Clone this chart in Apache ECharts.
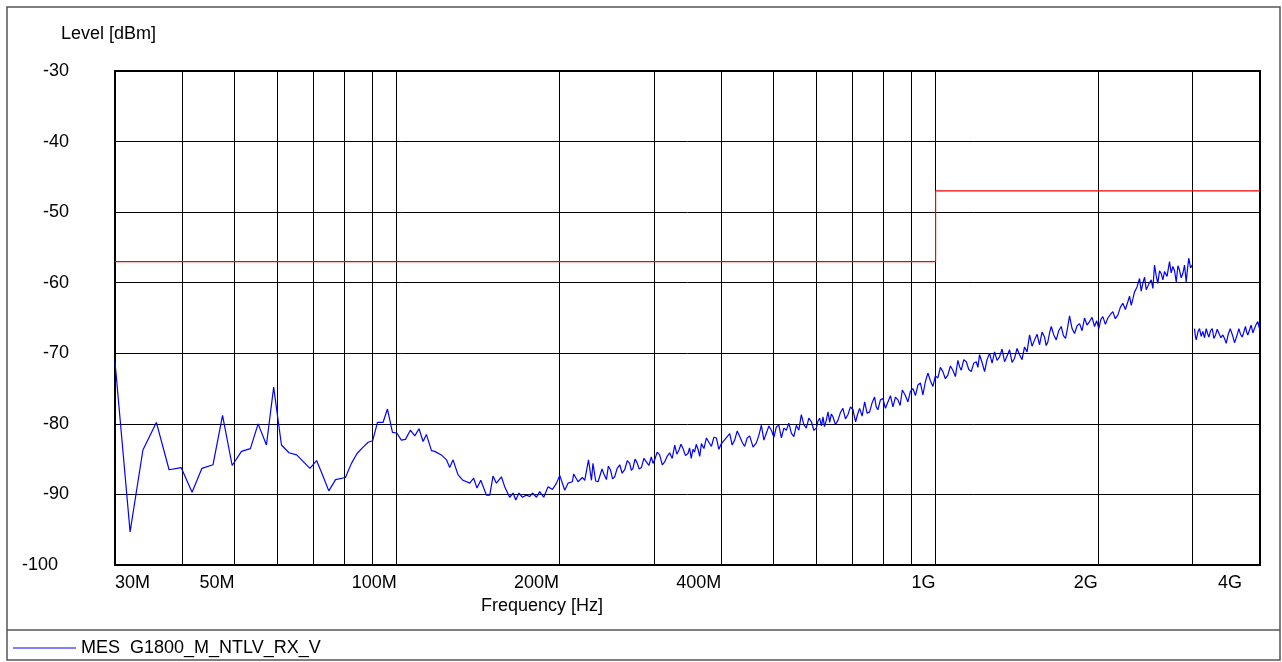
<!DOCTYPE html>
<html>
<head>
<meta charset="utf-8">
<script src="https://cdn.jsdelivr.net/npm/echarts@6/dist/echarts.min.js"></script>
<style>
	html, body { margin: 0; padding: 0; background: #fff; }
	#chart { width: 1282px; height: 662px; }
</style>
</head>
<body>
<div id="chart"></div>
<script>
// frequency in MHz, level in dBm
const sweepLow = [
	[30.0, -71.2], [32.0, -95.3], [33.8, -83.7], [35.8, -79.8], [37.8, -86.5], [39.8, -86.2],
	[41.7, -89.7], [43.5, -86.3], [45.6, -85.8], [47.5, -78.8], [49.5, -85.9], [51.5, -83.9],
	[53.5, -83.5], [55.3, -80.0], [57.3, -83.0], [59.1, -74.8], [61.1, -83.0], [63.1, -84.1],
	[65.2, -84.4], [69.0, -86.3], [71.0, -85.2], [72.8, -87.2], [74.8, -89.5], [77.0, -87.9],
	[80.3, -87.6], [82.4, -85.6], [84.4, -84.2], [86.6, -83.3], [88.5, -82.6], [90.2, -82.4],
	[92.1, -79.8], [94.3, -79.8], [96.1, -77.9], [98.2, -81.2], [100.0, -81.3], [102.0, -82.3],
	[103.8, -82.2], [106.0, -80.9], [108.0, -81.7], [110.0, -80.7]
]

const sweepMid = [
	[111.9, -82.5], [113.5, -81.5], [116.0, -83.8], [117.6, -83.9], [121.0, -84.4], [123.7, -85.1],
	[125.4, -86.2], [127.2, -85.1], [129.9, -87.2], [132.7, -88.0], [136.6, -88.4], [138.9, -87.7],
	[140.9, -89.1], [143.2, -88.0], [146.7, -90.1], [148.8, -90.1], [150.9, -87.4], [153.1, -88.4],
	[156.4, -87.5], [158.6, -88.9], [162.0, -90.4], [164.4, -89.8], [166.3, -90.8], [168.6, -89.8],
	[171.1, -90.4], [174.0, -90.1], [176.5, -90.3], [178.6, -89.8], [181.7, -90.4], [184.2, -89.6],
	[187.4, -90.4], [190.9, -88.9], [194.5, -89.3], [197.9, -88.4], [200.7, -87.3], [205.0, -89.4],
	[207.9, -88.4], [211.8, -88.2], [213.0, -87.1], [217.0, -88.2], [221.1, -87.6], [223.3, -88.0],
	[226.9, -85.1], [229.8, -88.0], [231.3, -85.6], [234.0, -88.1], [236.4, -88.2], [240.4, -86.4],
	[242.7, -87.2], [245.0, -87.9], [247.0, -86.0], [249.2, -86.5], [251.5, -87.8], [253.8, -87.5],
	[256.5, -86.3], [259.3, -85.8], [262.0, -87.0], [264.9, -86.5], [267.8, -85.2], [270.6, -85.6],
	[272.5, -86.6], [274.4, -86.3], [276.8, -85.0], [279.2, -85.5], [281.8, -86.4], [284.5, -86.2],
	[287.5, -84.9], [290.6, -85.4], [293.7, -85.9], [296.8, -84.7], [299.0, -85.6], [301.1, -85.1],
	[304.3, -84.0], [307.6, -84.4], [311.0, -85.8], [314.2, -85.4], [317.6, -84.6], [321.0, -84.1],
	[324.5, -84.9], [328.0, -83.0], [331.0, -84.3], [334.0, -83.7], [336.9, -82.9], [339.8, -83.5],
	[343.4, -84.5], [347.1, -84.2], [349.5, -83.4], [352.0, -84.9], [354.5, -83.6], [357.0, -84.0],
	[359.6, -82.9], [362.3, -83.6], [365.0, -84.6], [367.6, -82.8], [371.6, -83.5], [375.6, -82.0],
	[379.6, -82.6], [383.7, -83.2], [387.8, -81.9], [391.9, -82.0], [396.1, -83.6], [400.4, -82.8]
]

const sweepHigh = [
	[407.6, -82.1], [414.9, -81.4], [419.3, -83.0], [423.8, -82.3], [428.4, -81.0], [433.0, -81.8],
	[437.6, -82.6], [442.3, -83.2], [447.1, -82.0], [451.9, -81.7], [458.4, -83.3], [464.9, -82.7],
	[470.0, -81.6], [475.0, -80.2], [480.1, -82.3], [485.3, -81.3], [490.5, -80.3], [495.8, -80.9],
	[501.1, -81.9], [506.5, -80.4], [511.9, -80.2], [517.4, -82.0], [522.9, -80.6], [528.5, -80.9],
	[534.2, -79.9], [539.9, -81.3], [545.7, -81.8], [551.6, -80.2], [557.5, -80.9], [563.4, -78.7],
	[569.5, -80.1], [575.6, -80.6], [581.8, -79.2], [588.1, -79.7], [594.4, -80.9], [600.8, -80.6],
	[605.0, -79.6], [609.3, -79.2], [614.0, -80.3], [618.0, -79.0], [622.0, -80.4], [626.9, -79.5],
	[631.5, -78.3], [636.0, -79.8], [640.5, -78.6], [645.0, -79.0], [651.9, -80.1], [658.8, -79.5],
	[665.9, -78.4], [673.0, -77.8], [680.3, -79.3], [687.6, -78.7], [695.0, -77.6], [702.5, -78.0],
	[706.5, -78.9], [710.6, -79.7], [716.7, -78.6], [722.8, -77.8], [730.6, -78.9], [738.5, -76.9],
	[746.4, -78.5], [754.4, -78.3], [762.5, -77.0], [770.6, -76.2], [776.0, -77.6], [781.5, -78.0],
	[790.0, -76.6], [798.4, -76.4], [807.0, -77.8], [815.7, -76.9], [824.5, -76.0], [833.4, -77.6],
	[842.4, -76.2], [851.4, -76.6], [859.4, -77.4], [867.5, -75.2], [878.0, -75.9], [888.5, -76.9],
	[898.0, -75.4], [907.7, -75.0], [917.5, -76.0], [927.3, -74.5], [937.2, -74.2], [947.2, -75.9],
	[957.4, -74.0], [967.6, -72.8], [978.0, -73.9], [988.6, -74.7], [999.2, -73.2]
]

const sweepUpper = [
	[1009.9, -73.5], [1020.7, -72.0], [1031.6, -72.6], [1042.7, -73.6], [1053.9, -73.1], [1065.2, -71.8],
	[1076.7, -72.4], [1088.3, -73.3], [1099.9, -71.0], [1108.0, -71.9], [1116.0, -72.4], [1128.1, -70.9],
	[1140.2, -71.2], [1152.4, -72.3], [1164.6, -72.6], [1177.2, -71.4], [1189.8, -71.2], [1198.2, -72.0],
	[1206.7, -70.2], [1219.7, -71.3], [1232.8, -72.6], [1246.1, -70.9], [1259.5, -70.0], [1273.0, -71.4],
	[1286.7, -69.8], [1300.5, -71.0], [1314.3, -70.5], [1328.5, -69.4], [1342.8, -71.2], [1357.3, -70.4],
	[1371.8, -69.5], [1386.6, -71.3], [1401.5, -70.7], [1416.4, -69.3], [1431.5, -70.2], [1447.0, -70.9],
	[1462.5, -69.1], [1478.3, -69.8], [1494.2, -67.4], [1510.3, -69.0], [1526.5, -68.1], [1542.8, -67.3],
	[1559.2, -68.8], [1576.0, -67.0], [1593.0, -67.7], [1604.2, -68.9], [1615.5, -68.4], [1627.4, -67.1],
	[1639.4, -66.2], [1657.0, -67.4], [1674.6, -68.1], [1692.6, -66.8], [1710.8, -66.2], [1726.7, -67.5],
	[1742.6, -67.9], [1757.6, -66.4], [1772.6, -64.7], [1791.8, -66.5], [1811.0, -67.2], [1830.6, -66.1],
	[1850.2, -65.8], [1870.0, -66.8], [1889.8, -65.0], [1910.2, -66.0], [1930.7, -65.5], [1951.5, -64.9],
	[1972.4, -66.2], [1990.7, -65.4], [2009.1, -66.5], [2026.4, -65.2], [2043.7, -64.8], [2065.8, -65.9],
	[2087.9, -65.0], [2110.2, -64.5], [2132.6, -64.1], [2155.6, -65.1], [2178.7, -64.6], [2202.2, -63.5],
	[2225.8, -62.9], [2249.9, -63.8], [2274.0, -62.7], [2290.6, -61.9], [2307.3, -63.2], [2323.6, -62.3],
	[2340.0, -61.3], [2365.3, -60.6], [2390.6, -59.4], [2407.5, -61.2], [2424.4, -60.1], [2442.2, -59.2],
	[2459.9, -61.0], [2486.4, -60.2], [2513.0, -59.6], [2530.8, -60.8], [2548.6, -57.5], [2566.7, -59.0],
	[2584.7, -60.1], [2603.6, -58.3], [2622.5, -58.7], [2641.3, -59.6], [2660.2, -58.4], [2688.7, -59.1],
	[2717.2, -57.0], [2736.8, -58.6], [2756.3, -57.7], [2776.5, -58.3], [2796.6, -59.9], [2816.4, -57.6],
	[2836.1, -58.2], [2856.2, -59.3], [2876.3, -58.7], [2897.3, -57.5], [2918.3, -59.9], [2934.6, -58.0],
	[2950.8, -56.5], [2972.4, -57.9], [2993.9, -57.5]
]

const sweepTop = [
	[3023.7, -66.5], [3035.0, -67.6], [3046.1, -68.1], [3067.6, -67.0], [3089.2, -66.5], [3111.2, -67.6],
	[3133.1, -66.9], [3156.0, -67.8], [3178.9, -66.5], [3196.9, -67.2], [3214.9, -67.7], [3238.4, -66.8],
	[3261.9, -66.5], [3285.0, -67.9], [3308.1, -67.4], [3331.5, -66.6], [3354.9, -66.8], [3383.8, -67.8],
	[3412.7, -67.4], [3437.6, -67.9], [3462.6, -68.6], [3492.4, -67.3], [3522.2, -66.5], [3555.0, -67.4],
	[3587.7, -68.5], [3621.1, -67.6], [3654.5, -66.5], [3680.6, -67.3], [3706.8, -67.7], [3733.1, -67.0],
	[3759.4, -66.2], [3778.1, -67.0], [3796.8, -67.4], [3824.6, -66.7], [3852.4, -66.0], [3879.6, -67.1],
	[3906.8, -66.5], [3934.8, -65.9], [3962.8, -65.5], [3981.4, -66.2], [4000.0, -66.7]
]

const limitLine = [[30, -57], [1000, -57], [1000, -47], [4000, -47]]

const gridFreqs = [40, 50, 60, 70, 80, 90, 100, 200, 300, 400, 500, 600, 700, 800, 900, 1000, 2000, 3000]
const labelFreqs = [30, 50, 100, 200, 400, 1000, 2000, 4000]
const tickLabels = ['30M', '50M', '100M', '200M', '400M', '1G', '2G', '4G']

const seriesName = 'MES  G1800_M_NTLV_RX_V'
const font = '"Liberation Sans", Arial, sans-serif'

const toHz = (pts) => pts.map(([f, v]) => [f * 1e6, v])

const gridMarks = gridFreqs.map((f) => ({ xAxis: f * 1e6 }))
const labelMarks = labelFreqs.map((f, i) => {
	let align = 'right'
	let padding = 0
	if (i === 0) align = 'left'
	if (i === labelFreqs.length - 1) padding = [0, 18, 0, 0]
	return {
		xAxis: f * 1e6,
		lineStyle: { color: 'rgba(0,0,0,0)' },
		label: {
			show: true,
			position: 'start',
			formatter: tickLabels[i],
			distance: 9,
			align: align,
			padding: padding,
			color: '#000',
			fontSize: 18,
			fontFamily: font
		}
	}
})

const myChart = echarts.init(document.getElementById('chart'))

const option = {
	animation: false,
	backgroundColor: '#fff',
	textStyle: { fontFamily: font },
	title: [
		{
			text: 'Level [dBm]',
			left: 61,
			top: 25,
			padding: 0,
			textStyle: { fontSize: 18, fontWeight: 'normal', color: '#000', fontFamily: font }
		},
		{
			text: 'Frequency [Hz]',
			left: 481,
			top: 597,
			padding: 0,
			textStyle: { fontSize: 18, fontWeight: 'normal', color: '#000', fontFamily: font }
		}
	],
	legend: {
		data: [seriesName],
		left: 13,
		top: 639,
		padding: 0,
		icon: 'rect',
		itemWidth: 63,
		itemHeight: 1,
		textStyle: { fontSize: 18, color: '#000', fontFamily: font }
	},
	graphic: [
		{
			type: 'rect',
			shape: { x: 7, y: 7, width: 1273, height: 653 },
			style: { fill: 'none', stroke: '#555', lineWidth: 1.5 },
			silent: true
		},
		{
			type: 'line',
			shape: { x1: 7, y1: 630, x2: 1280, y2: 630 },
			style: { stroke: '#555', lineWidth: 1.5 },
			silent: true
		}
	],
	grid: {
		left: 115,
		right: 22,
		top: 71,
		bottom: 97,
		show: true,
		borderColor: '#000',
		borderWidth: 2
	},
	xAxis: {
		type: 'log',
		logBase: 10,
		min: 30e6,
		max: 4e9,
		axisLine: { show: true, lineStyle: { color: '#000', width: 2 } },
		axisTick: { show: false },
		axisLabel: { show: false },
		splitLine: { show: false }
	},
	yAxis: {
		type: 'value',
		min: -100,
		max: -30,
		interval: 10,
		axisLine: { show: true, lineStyle: { color: '#000', width: 2 } },
		axisTick: { show: false },
		axisLabel: {
			margin: 46,
			color: '#000',
			fontSize: 18,
			fontFamily: font,
			formatter: (v) => (v === -100 ? '{p|' + v + '}' : String(v)),
			rich: {
				p: { padding: [0, 11, 0, 0], fontSize: 18, color: '#000', fontFamily: font }
			}
		},
		splitLine: { show: true, lineStyle: { color: '#000', width: 1 } }
	},
	series: [
		{
			name: 'grid',
			type: 'line',
			data: [],
			silent: true,
			z: 1,
			markLine: {
				silent: true,
				z: 1,
				symbol: 'none',
				animation: false,
				lineStyle: { color: '#000', width: 1, type: 'solid' },
				label: { show: false },
				emphasis: { disabled: true },
				data: gridMarks.concat(labelMarks)
			}
		},
		{
			name: 'limit',
			type: 'line',
			data: toHz(limitLine),
			showSymbol: false,
			silent: true,
			z: 3,
			lineStyle: { color: '#ff0000', width: 1.2 }
		},
		{
			name: seriesName,
			type: 'line',
			data: toHz(sweepLow.concat(sweepMid, sweepHigh, sweepUpper)),
			showSymbol: false,
			z: 4,
			color: '#0000ff',
			lineStyle: { color: '#0000ff', width: 1.2 }
		},
		{
			name: seriesName,
			type: 'line',
			data: toHz(sweepTop),
			showSymbol: false,
			z: 4,
			color: '#0000ff',
			lineStyle: { color: '#0000ff', width: 1.2 }
		}
	]
}

myChart.setOption(option)

window.addEventListener('resize', () => {
	myChart.resize()
})
</script>
</body>
</html>
